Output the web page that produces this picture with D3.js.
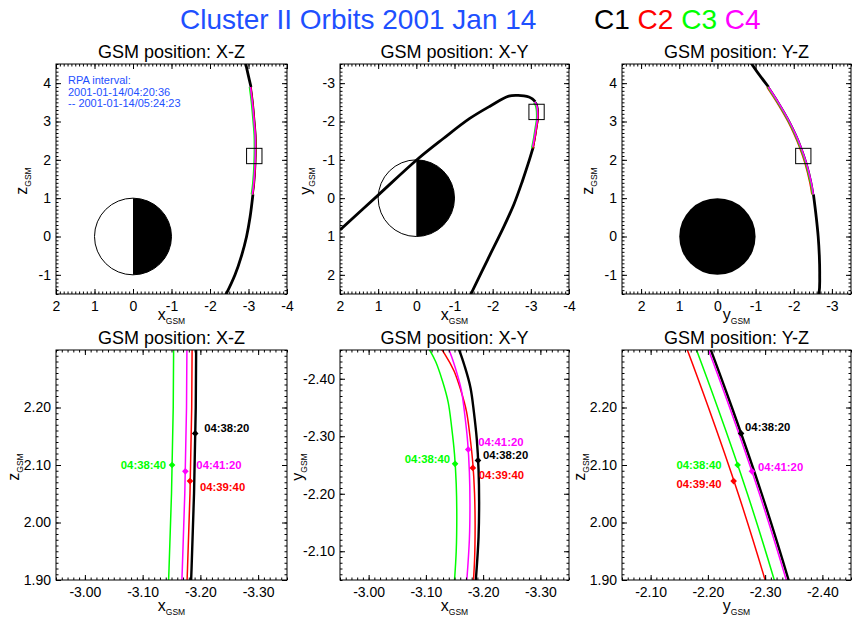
<!DOCTYPE html>
<html>
<head>
<meta charset="utf-8">
<script src="https://cdn.jsdelivr.net/npm/d3@7"></script>
<style>
  body { margin: 0; background: #fff; }
  svg { display: block; }
</style>
</head>
<body>
<svg id="chart" width="852" height="617"></svg>
<script>
// ---- Spacecraft ----
const craft = ["C1", "C2", "C3", "C4"];
const craftColors = ["#000000", "#ff0000", "#00ff00", "#ff00ff"];

// Separation of C2..C4 from C1 during the pass (GSM, Re)
const offsetX = [0, 0.007, 0.039, 0.016];
const offsetY = [0, 0.041, 0.025, 0.004];
const offsetZ = [0, 0, 0, 0];

// ---- C1 orbit, GSM coordinates (Re) ----
const orbitX = [2.00, 1.00, 0.00, -0.70, -1.40, -1.93, -2.42, -2.65, -2.82, -2.95, -3.04, -3.115, -3.152, -3.184, -3.193, -3.188, -3.160, -3.115, -3.065, -2.93, -2.78, -2.56, -2.29, -1.86, -1.43, -1.24];
const orbitY = [0.83, -0.08, -0.99, -1.55, -2.08, -2.40, -2.66, -2.68, -2.67, -2.64, -2.59, -2.516, -2.465, -2.341, -2.186, -2.06, -1.89, -1.60, -1.34, -0.90, -0.45, 0.15, 0.75, 1.62, 2.50, 2.90];
const orbitZ = [-8.0, -6.4, -4.9, -4.0, -3.1, -2.4, -1.5, -1.0, -0.5, 0.0, 0.5, 1.1, 1.4, 1.9, 2.35, 2.65, 3.0, 3.5, 3.9, 4.5, 5.3, 6.2, 7.0, 8.3, 9.5, 10.1];

// Part of the orbit covered by the RPA interval (z range along the pass)
const rpaZ = [1.1, 3.9];
const rpaText = ["RPA interval:", "2001-01-14/04:20:36", "-- 2001-01-14/05:24:23"];

// ---- C1 track through the selected box, finer sampling ----
const trackX = [-3.122, -3.140, -3.156, -3.168, -3.178, -3.184, -3.189, -3.192, -3.193, -3.192, -3.188, -3.182, -3.172];
const trackY = [-2.509, -2.484, -2.455, -2.421, -2.384, -2.341, -2.294, -2.242, -2.186, -2.125, -2.060, -1.990, -1.917];
const trackZ = [1.15, 1.30, 1.45, 1.60, 1.75, 1.90, 2.05, 2.20, 2.35, 2.50, 2.65, 2.80, 2.95];

// ---- Boundary crossings ----
const markTime = ["04:38:20", "04:39:40", "04:38:40", "04:41:20"];
const markX = [-3.191, -3.182, -3.151, -3.174];
const markY = [-2.258, -2.245, -2.252, -2.277];
const markZ = [2.155, 2.072, 2.100, 2.089];

// ---- Axis ranges [min, max] ----
const overviewRange = { x: [-4, 2], y: [-3.5, 2.5], z: [-1.5, 4.5] };
const boxRange = { x: [-3.35, -2.95], y: [-2.45, -2.05], z: [1.90, 2.30] };

// ---- Tick labels ----
const overviewTicks = { x: [2, 1, 0, -1, -2, -3, -4], y: [2, 1, 0, -1, -2, -3], z: [-1, 0, 1, 2, 3, 4] };
const zoomTicks = { x: [-3.00, -3.10, -3.20, -3.30], y: [-2.10, -2.20, -2.30, -2.40], z: [1.90, 2.00, 2.10, 2.20] };

const mainTitle = "Cluster II Orbits 2001 Jan 14";
const panelTitles = ["GSM position: X-Z", "GSM position: X-Y", "GSM position: Y-Z"];

// ---------------------------------------------------------------
const FONT = '"Liberation Sans", Arial, Helvetica, sans-serif';
const BLUE = "#1e50ff";
const svg = d3.select("#chart").attr("font-family", FONT);

const colLeft = [56, 340, 622];
const colWidth = [231, 229, 229];
const rowTop = [64, 350];
const plotH = 230;
const xTitleBase = [320, 611];
const views = [["x", "z"], ["x", "y"], ["y", "z"]];
const comp = { x: 0, y: 1, z: 2 };

// label placement next to each crossing marker: [dx, dy, anchor], per view
const markLabelPos = [
  [[9, -5, "start"], [10, 6, "start"], [-6, 0, "end"], [11, -6, "start"]],
  [[5, -5, "start"], [6, 7, "start"], [-5, -5, "end"], [10, -7, "start"]],
  [[4, -6, "start"], [-12, 3, "end"], [-16, 0, "end"], [6, -4, "start"]]
];

// title
svg.append("text").attr("x", 180).attr("y", 29).attr("font-size", 28)
  .attr("fill", BLUE).text(mainTitle);
const legend = svg.append("text").attr("x", 594).attr("y", 29).attr("font-size", 28);
craft.forEach((c, i) => legend.append("tspan").attr("fill", craftColors[i]).text((i ? " " : "") + c));

const orbit = orbitX.map((x, i) => [x, orbitY[i], orbitZ[i]]);
const track = trackX.map((x, i) => [x, trackY[i], trackZ[i]]);
const shifted = (pts, k) => pts.map(p => [p[0] + offsetX[k], p[1] + offsetY[k], p[2] + offsetZ[k]]);

function hDomain(c, r) { return [r[c][1], r[c][0]]; }            // values decrease to the right
function vDomain(c, r) { return c === "z" ? [r.z[0], r.z[1]] : [r.y[1], r.y[0]]; }

function minorValues(r, step) {
  const a = Math.round(r[0] / step), b = Math.round(r[1] / step);
  return d3.range(a, b + 1).map(i => +(i * step).toFixed(4));
}

function axisTitle(g, letter, x, y, rotate, size) {
  const t = g.append("text").attr("font-size", size).attr("text-anchor", "middle")
    .attr("transform", `translate(${x},${y})` + (rotate ? " rotate(-90)" : ""));
  t.append("tspan").text(letter);
  t.append("tspan").attr("font-size", 8.5).attr("dy", 3.5).text("GSM");
}

let clipId = 0;
function drawPanel(row, col) {
  const [hc, vc] = views[col];
  const range = row === 0 ? overviewRange : boxRange;
  const ticks = row === 0 ? overviewTicks : zoomTicks;
  const fmt = row === 0 ? (d => String(d)) : (d => d.toFixed(2));
  const step = row === 0 ? 0.1 : 0.01;
  const left = colLeft[col], top = rowTop[row], w = colWidth[col], h = plotH;
  const bottom = top + h, right = left + w;

  const xs = d3.scaleLinear().domain(hDomain(hc, range)).range([left, right]);
  const ys = d3.scaleLinear().domain(vDomain(vc, range)).range([bottom, top]);
  const g = svg.append("g");

  const id = "clip" + (clipId++);
  g.append("clipPath").attr("id", id).append("rect")
    .attr("x", left).attr("y", top).attr("width", w).attr("height", h);
  const plot = g.append("g").attr("clip-path", `url(#${id})`);

  const line = d3.line()
    .x(d => xs(d[comp[hc]])).y(d => ys(d[comp[vc]]))
    .curve(d3.curveCatmullRom.alpha(0.5));

  if (row === 0) {
    // Earth: dayside white, nightside black (full disc seen along x)
    const cx = xs(0), cy = ys(0);
    const rx = Math.abs(xs(1) - xs(0)), ry = Math.abs(ys(1) - ys(0));
    if (hc === "x") {
      plot.append("ellipse").attr("cx", cx).attr("cy", cy).attr("rx", rx).attr("ry", ry)
        .attr("fill", "#fff").attr("stroke", "#000").attr("stroke-width", 1);
      plot.append("path")
        .attr("d", `M${cx},${cy - ry} A${rx},${ry} 0 0 1 ${cx},${cy + ry} Z`)
        .attr("fill", "#000");
    } else {
      plot.append("ellipse").attr("cx", cx).attr("cy", cy).attr("rx", rx).attr("ry", ry)
        .attr("fill", "#000");
    }
    // orbit outside the RPA interval
    const before = orbit.filter(p => p[2] <= rpaZ[0] + 1e-9);
    const after = orbit.filter(p => p[2] >= rpaZ[1] - 1e-9);
    [before, after].forEach(seg => plot.append("path").attr("d", line(seg))
      .attr("fill", "none").attr("stroke", "#000").attr("stroke-width", 2.8));
    // each spacecraft during the RPA interval
    const during = orbit.filter(p => p[2] >= rpaZ[0] - 1e-9 && p[2] <= rpaZ[1] + 1e-9);
    craft.forEach((c, k) => plot.append("path").attr("d", line(shifted(during, k)))
      .attr("fill", "none").attr("stroke", craftColors[k]).attr("stroke-width", 1.6));
    // box selected for the lower panels
    const bx = [xs(boxRange[hc][0]), xs(boxRange[hc][1])];
    const by = [ys(boxRange[vc][0]), ys(boxRange[vc][1])];
    plot.append("rect")
      .attr("x", d3.min(bx)).attr("y", d3.min(by))
      .attr("width", Math.abs(bx[1] - bx[0])).attr("height", Math.abs(by[1] - by[0]))
      .attr("fill", "none").attr("stroke", "#000").attr("stroke-width", 1);
    if (col === 0) {
      const t = g.append("text").attr("font-size", 11).attr("fill", BLUE);
      rpaText.forEach((s, i) => t.append("tspan").attr("x", left + 12).attr("y", 84 + i * 11.5).text(s));
    }
  } else {
    craft.forEach((c, k) => plot.append("path").attr("d", line(shifted(track, k)))
      .attr("fill", "none").attr("stroke", craftColors[k])
      .attr("stroke-width", k === 0 ? 2.4 : 1.5));
    const marks = craft.map((c, k) => [markX[k], markY[k], markZ[k]]);
    const sym = d3.symbol().type(d3.symbolSquare).size(22);
    marks.forEach((p, k) => {
      const px = xs(p[comp[hc]]), py = ys(p[comp[vc]]);
      plot.append("path").attr("d", sym())
        .attr("transform", `translate(${px},${py}) rotate(45)`)
        .attr("fill", craftColors[k]);
      const [dx, dy, anchor] = markLabelPos[col][k];
      g.append("text").attr("x", px + dx).attr("y", py + dy).attr("dy", "0.35em")
        .attr("text-anchor", anchor).attr("font-size", 11.3).attr("font-weight", "bold")
        .attr("fill", craftColors[k]).text(markTime[k]);
    });
  }

  // frame
  g.append("rect").attr("x", left).attr("y", top).attr("width", w).attr("height", h)
    .attr("fill", "none").attr("stroke", "#000").attr("stroke-width", 1);

  // axes: major ticks + labels, minor ticks on all four sides
  const hMaj = ticks[hc], vMaj = ticks[vc];
  const hMin = minorValues(range[hc], step), vMin = minorValues(range[vc], step);
  const tickFont = 14;
  const style = sel => { sel.select(".domain").remove(); sel.attr("font-family", FONT).attr("font-size", tickFont); };

  g.append("g").attr("transform", `translate(0,${bottom})`)
    .call(d3.axisBottom(xs).tickValues(hMaj).tickSize(-5).tickPadding(7).tickFormat(fmt)).call(style);
  g.append("g").attr("transform", `translate(0,${bottom})`)
    .call(d3.axisBottom(xs).tickValues(hMin).tickSize(-2.5).tickFormat("")).call(style);
  g.append("g").attr("transform", `translate(0,${top})`)
    .call(d3.axisTop(xs).tickValues(hMaj).tickSize(-5).tickFormat("")).call(style);
  g.append("g").attr("transform", `translate(0,${top})`)
    .call(d3.axisTop(xs).tickValues(hMin).tickSize(-2.5).tickFormat("")).call(style);
  g.append("g").attr("transform", `translate(${left},0)`)
    .call(d3.axisLeft(ys).tickValues(vMaj).tickSize(-5).tickPadding(5).tickFormat(fmt)).call(style);
  g.append("g").attr("transform", `translate(${left},0)`)
    .call(d3.axisLeft(ys).tickValues(vMin).tickSize(-2.5).tickFormat("")).call(style);
  g.append("g").attr("transform", `translate(${right},0)`)
    .call(d3.axisRight(ys).tickValues(vMaj).tickSize(-5).tickFormat("")).call(style);
  g.append("g").attr("transform", `translate(${right},0)`)
    .call(d3.axisRight(ys).tickValues(vMin).tickSize(-2.5).tickFormat("")).call(style);

  // titles
  g.append("text").attr("x", left + w / 2).attr("y", top - 6).attr("text-anchor", "middle")
    .attr("font-size", 18).text(panelTitles[col]);
  axisTitle(g, hc, left + w / 2, xTitleBase[row], false, 16);
  axisTitle(g, vc, left - (row === 0 ? 29 : 37), top + h / 2 + 2, true, 16);
}

for (let r = 0; r < 2; r++) for (let c = 0; c < 3; c++) drawPanel(r, c);
</script>
</body>
</html>
